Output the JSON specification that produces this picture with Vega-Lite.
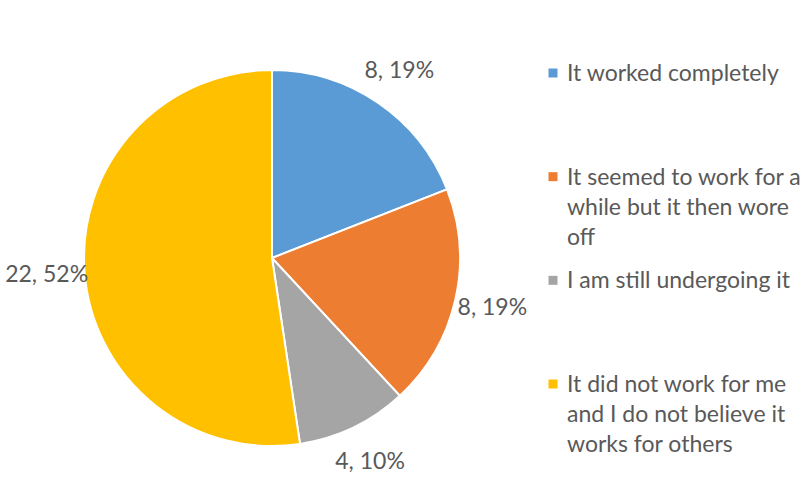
{
  "$schema": "https://vega.github.io/schema/vega-lite/v6.json",
  "background": "white",
  "padding": {"left": 5, "top": 13, "right": 0, "bottom": 0},
  "config": {"view": {"stroke": null}, "font": "Lato", "concat": {"spacing": 0}},
  "datasets": {
    "d": [
      {"idx": 1, "category": "It worked completely", "legendText": "It worked completely", "count": 8, "lbl": "8, 19%"},
      {"idx": 2, "category": "It seemed to work for a while but it then wore off", "legendText": "It seemed to work for a|while but it then wore|off", "count": 8, "lbl": "8, 19%"},
      {"idx": 3, "category": "I am still undergoing it", "legendText": "I am still undergoing it", "count": 4, "lbl": "4, 10%"},
      {"idx": 4, "category": "It did not work for me and I do not believe it works for others", "legendText": "It did not work for me|and I do not believe it|works for others", "count": 22, "lbl": "22, 52%"}
    ]
  },
  "hconcat": [
    {
      "width": 530,
      "height": 490,
      "data": {"name": "d"},
      "layer": [
        {
          "mark": {"type": "arc", "outerRadius": 188, "stroke": "white", "strokeWidth": 2},
          "encoding": {
            "theta": {"field": "count", "type": "quantitative", "stack": true},
            "order": {"field": "idx", "type": "quantitative"},
            "color": {
              "field": "category", "type": "nominal",
              "scale": {"domain": ["It worked completely", "It seemed to work for a while but it then wore off", "I am still undergoing it", "It did not work for me and I do not believe it works for others"], "range": ["#5B9BD5", "#ED7D31", "#A5A5A5", "#FFC000"]},
              "legend": null
            }
          }
        },
        {
          "mark": {"type": "text", "radius": 226, "fontSize": 23, "fill": "#595959", "align": "center", "baseline": "middle"},
          "encoding": {
            "theta": {"field": "count", "type": "quantitative", "stack": true},
            "order": {"field": "idx", "type": "quantitative"},
            "text": {"field": "lbl"}
          }
        }
      ]
    },
    {
      "width": 32,
      "height": 490,
      "data": {"name": "d"},
      "layer": [
        {
          "mark": {"type": "square", "size": 81, "filled": true, "opacity": 1},
          "encoding": {
            "y": {"field": "category", "type": "nominal", "sort": {"field": "idx"}, "scale": {"type": "point", "range": [60, 371], "padding": 0}, "axis": null},
            "color": {
              "field": "category", "type": "nominal",
              "scale": {"domain": ["It worked completely", "It seemed to work for a while but it then wore off", "I am still undergoing it", "It did not work for me and I do not believe it works for others"], "range": ["#5B9BD5", "#ED7D31", "#A5A5A5", "#FFC000"]},
              "legend": null
            }
          }
        },
        {
          "mark": {"type": "text", "align": "left", "baseline": "top", "dx": 14, "dy": -10, "lineBreak": "|", "lineHeight": 30, "fontSize": 23, "fill": "#595959"},
          "encoding": {
            "y": {"field": "category", "type": "nominal", "sort": {"field": "idx"}, "scale": {"type": "point", "range": [60, 371], "padding": 0}, "axis": null},
            "text": {"field": "legendText"}
          }
        }
      ]
    }
  ]
}
